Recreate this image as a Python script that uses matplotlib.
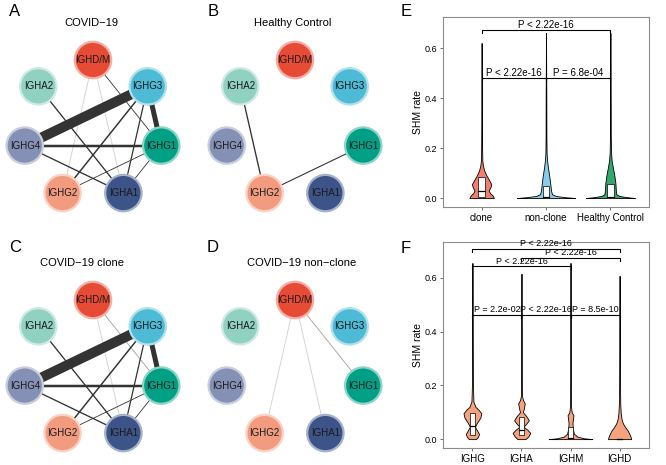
import numpy as np
import matplotlib.pyplot as plt
from matplotlib.patches import Circle, Rectangle

plt.rcParams['font.family'] = ['Liberation Sans', 'DejaVu Sans']

# network nodes, clockwise from the top
nodes = ['IGHD/M', 'IGHG3', 'IGHG1', 'IGHA1', 'IGHG2', 'IGHG4', 'IGHA2']
node_colors = ['#E64B35', '#4DBBD5', '#00A087', '#3C5488', '#F39B7F', '#8491B4', '#91D1C2']

# edges: (node, node, weight, tone)
edges_a = [('IGHD/M', 'IGHG2', 1, 'light'), ('IGHD/M', 'IGHA1', 1, 'light'),
           ('IGHD/M', 'IGHG1', 1, 'dark'), ('IGHA2', 'IGHA1', 1.6, 'dark'),
           ('IGHG3', 'IGHG4', 12, 'dark'), ('IGHG3', 'IGHG1', 6, 'dark'),
           ('IGHG4', 'IGHG1', 3, 'dark'), ('IGHG4', 'IGHA1', 1.6, 'dark'),
           ('IGHG3', 'IGHG2', 1.8, 'dark'), ('IGHG3', 'IGHA1', 1.5, 'dark'),
           ('IGHG1', 'IGHG2', 1, 'dark'), ('IGHG1', 'IGHA1', 1, 'dark')]
edges_b = [('IGHA2', 'IGHG2', 1.6, 'dark'), ('IGHG2', 'IGHG1', 1.3, 'dark')]
edges_c = [('IGHD/M', 'IGHA1', 1, 'light'), ('IGHD/M', 'IGHG1', 1, 'mid'),
           ('IGHA2', 'IGHA1', 1.6, 'dark'), ('IGHG3', 'IGHG4', 12, 'dark'),
           ('IGHG3', 'IGHG1', 6, 'dark'), ('IGHG4', 'IGHG1', 3, 'dark'),
           ('IGHG4', 'IGHA1', 1.6, 'dark'), ('IGHG3', 'IGHG2', 1.8, 'dark'),
           ('IGHG3', 'IGHA1', 1.5, 'dark'), ('IGHG1', 'IGHG2', 1, 'dark'),
           ('IGHG1', 'IGHA1', 1, 'dark')]
edges_d = [('IGHD/M', 'IGHG2', 1, 'light'), ('IGHD/M', 'IGHA1', 1, 'light'),
           ('IGHD/M', 'IGHG1', 1, 'mid')]
net_titles = ['COVID\u221219', 'Healthy Control', 'COVID\u221219 clone', 'COVID\u221219 non\u2212clone']

# E: SHM rate violins (value, half width)
e_groups = ['clone', 'non-clone', 'Healthy Control']
e_colors = ['#F07F6E', '#86CDEB', '#34A86C']
clone_y = [0, 0.01, 0.02, 0.03, 0.045, 0.055, 0.07, 0.09, 0.11, 0.13, 0.15, 0.2, 0.3, 0.45, 0.62]
clone_w = [0.19, 0.17, 0.13, 0.11, 0.14, 0.15, 0.12, 0.075, 0.04, 0.02, 0.011, 0.007, 0.005, 0.004, 0.0]
nonclone_y = [0, 0.003, 0.008, 0.015, 0.03, 0.06, 0.09, 0.12, 0.15, 0.18, 0.25, 0.4, 0.66]
nonclone_w = [0.45, 0.31, 0.155, 0.093, 0.078, 0.065, 0.05, 0.031, 0.017, 0.009, 0.006, 0.005, 0]
hc_y = [0, 0.003, 0.008, 0.015, 0.03, 0.06, 0.09, 0.12, 0.15, 0.18, 0.25, 0.4, 0.66]
hc_w = [0.38, 0.264, 0.14, 0.093, 0.085, 0.078, 0.062, 0.04, 0.02, 0.011, 0.006, 0.005, 0]
e_box = [(0.003, 0.03, 0.085), (0.0, 0.003, 0.048), (0.0, 0.003, 0.056)]
e_tests = [(1, 3, 0.672, 'P < 2.22e-16'), (1, 2, 0.48, 'P < 2.22e-16'), (2, 3, 0.48, 'P = 6.8e-04')]

# F: isotype violins
f_groups = ['IGHG', 'IGHA', 'IGHM', 'IGHD']
f_color = '#F5A27F'
ighg_y = [0, 0.008, 0.019, 0.03, 0.046, 0.06, 0.08, 0.096, 0.11, 0.12, 0.14, 0.2, 0.4, 0.655]
ighg_w = [0.071, 0.111, 0.135, 0.101, 0.051, 0.091, 0.162, 0.182, 0.121, 0.061, 0.02, 0.01, 0.007, 0]
igha_y = [0, 0.01, 0.023, 0.035, 0.046, 0.058, 0.07, 0.085, 0.10, 0.115, 0.133, 0.145, 0.16, 0.2, 0.4, 0.615]
igha_w = [0.08, 0.14, 0.18, 0.12, 0.04, 0.1, 0.15, 0.1, 0.03, 0.05, 0.067, 0.03, 0.012, 0.008, 0.006, 0]
ighm_y = [0, 0.003, 0.009, 0.02, 0.04, 0.06, 0.075, 0.089, 0.10, 0.12, 0.2, 0.4, 0.655]
ighm_w = [0.445, 0.28, 0.14, 0.07, 0.045, 0.04, 0.05, 0.06, 0.024, 0.012, 0.008, 0.006, 0]
ighd_y = [0, 0.01, 0.02, 0.033, 0.045, 0.059, 0.075, 0.096, 0.13, 0.2, 0.4, 0.607]
ighd_w = [0.236, 0.222, 0.198, 0.162, 0.111, 0.067, 0.04, 0.024, 0.014, 0.009, 0.006, 0]
f_box = [(0.015, 0.048, 0.096), (0.015, 0.035, 0.083), (0.0, 0.004, 0.046), (0.0, 0.0, 0.002)]
f_tests = [(1, 4, 0.708, 'P < 2.22e-16'), (2, 4, 0.675, 'P < 2.22e-16'), (1, 3, 0.644, 'P < 2.22e-16'),
           (1, 2, 0.463, 'P = 2.2e-02'), (2, 3, 0.463, 'P < 2.22e-16'), (3, 4, 0.463, 'P = 8.5e-10')]

W, H = 666, 465
fig = plt.figure(figsize=(W / 100, H / 100), dpi=100)


def px_axes(left, top, w, h):
    return fig.add_axes([left / W, 1 - (top + h) / H, w / W, h / H])


tones = {'light': '#cfcfcf', 'mid': '#a0a0a0', 'dark': '#333333'}
ang = np.pi / 2 - np.arange(len(nodes)) * 2 * np.pi / len(nodes)
pos = {n: (np.cos(a), np.sin(a)) for n, a in zip(nodes, ang)}


def lighten(c, f=0.55):
    rgb = np.array(plt.matplotlib.colors.to_rgb(c))
    return tuple(rgb + (1 - rgb) * f)


def network(cx, cy, edges, title, tx):
    ax = px_axes(cx - 95, cy - 120, 190, 215)
    ax.set_xlim(-95 / 70, 95 / 70)
    ax.set_ylim(-95 / 70, 120 / 70)
    ax.axis('off')
    for a, b, wt, tone in edges:
        ax.plot([pos[a][0], pos[b][0]], [pos[a][1], pos[b][1]], color=tones[tone],
                lw=wt * 0.6, solid_capstyle='butt', zorder=1)
    for n, c in zip(nodes, node_colors):
        ax.add_patch(Circle(pos[n], 0.26, facecolor=c, edgecolor=lighten(c), lw=1.6, zorder=2))
        ax.text(pos[n][0], pos[n][1], n, ha='center', va='center', fontsize=7,
                color='#1a1a1a', zorder=3)
    ax.text(tx, 107 / 70, title, ha='center', va='center', fontsize=8)


network(93, 130, edges_a, net_titles[0], -0.03)
network(295, 130, edges_b, net_titles[1], -0.03)
network(93, 370, edges_c, net_titles[2], -0.16)
network(295, 370, edges_d, net_titles[3], 0.1)

for lab, x, y in [('A', 15, 11), ('B', 213, 11), ('E', 406, 11),
                  ('C', 15, 247), ('D', 213, 247), ('F', 406, 248)]:
    fig.text(x / W, 1 - y / H, lab, fontsize=12, ha='center', va='center')


def violin(ax, x, ys, ws, color):
    ys = np.array(ys)
    ws = np.array(ws)
    ax.fill_betweenx(ys, x - ws, x + ws, facecolor=color, edgecolor='black', lw=0.6, zorder=2)


def box(ax, x, q):
    q1, med, q3 = q
    ax.add_patch(Rectangle((x - 0.05, q1), 0.1, max(q3 - q1, 0.001), facecolor='white',
                           edgecolor='black', lw=0.5, zorder=3))
    ax.plot([x - 0.05, x + 0.05], [med, med], color='black', lw=0.9, zorder=4)


def bracket(ax, x1, x2, y, label, size):
    ax.plot([x1, x1, x2, x2], [y - 0.012, y, y, y - 0.012], color='black', lw=0.8, zorder=5)
    ax.text((x1 + x2) / 2, y + 0.001, label, ha='center', va='bottom', fontsize=size, zorder=6)


def style(ax, groups, ylim):
    ax.set_xlim(0.4, len(groups) + 0.6)
    ax.set_ylim(*ylim)
    ax.set_xticks(range(1, len(groups) + 1))
    ax.set_xticklabels(groups, fontsize=7)
    ax.set_yticks([0, 0.2, 0.4, 0.6])
    ax.set_yticklabels(['0.0', '0.2', '0.4', '0.6'], fontsize=6.5)
    ax.tick_params(length=2.5, width=0.6, color='#555555', pad=1.5)
    ax.set_ylabel('SHM rate', fontsize=7.5, labelpad=1)
    for s in ax.spines.values():
        s.set_color('#8c8c8c')
        s.set_linewidth(0.8)


axe = px_axes(443, 17, 206, 190)
for i, (ys, ws) in enumerate([(clone_y, clone_w), (nonclone_y, nonclone_w), (hc_y, hc_w)]):
    violin(axe, i + 1, ys, ws, e_colors[i])
    box(axe, i + 1, e_box[i])
for x1, x2, y, lab in e_tests:
    bracket(axe, x1, x2, y, lab, 7)
style(axe, e_groups, (-0.036, 0.724))

axf = px_axes(443, 242, 206, 206)
for i, (ys, ws) in enumerate([(ighg_y, ighg_w), (igha_y, igha_w), (ighm_y, ighm_w), (ighd_y, ighd_w)]):
    violin(axf, i + 1, ys, ws, f_color)
    box(axf, i + 1, f_box[i])
for x1, x2, y, lab in f_tests:
    bracket(axf, x1, x2, y, lab, 6.5)
style(axf, f_groups, (-0.033, 0.733))

fig.savefig('out.png', dpi=100)
